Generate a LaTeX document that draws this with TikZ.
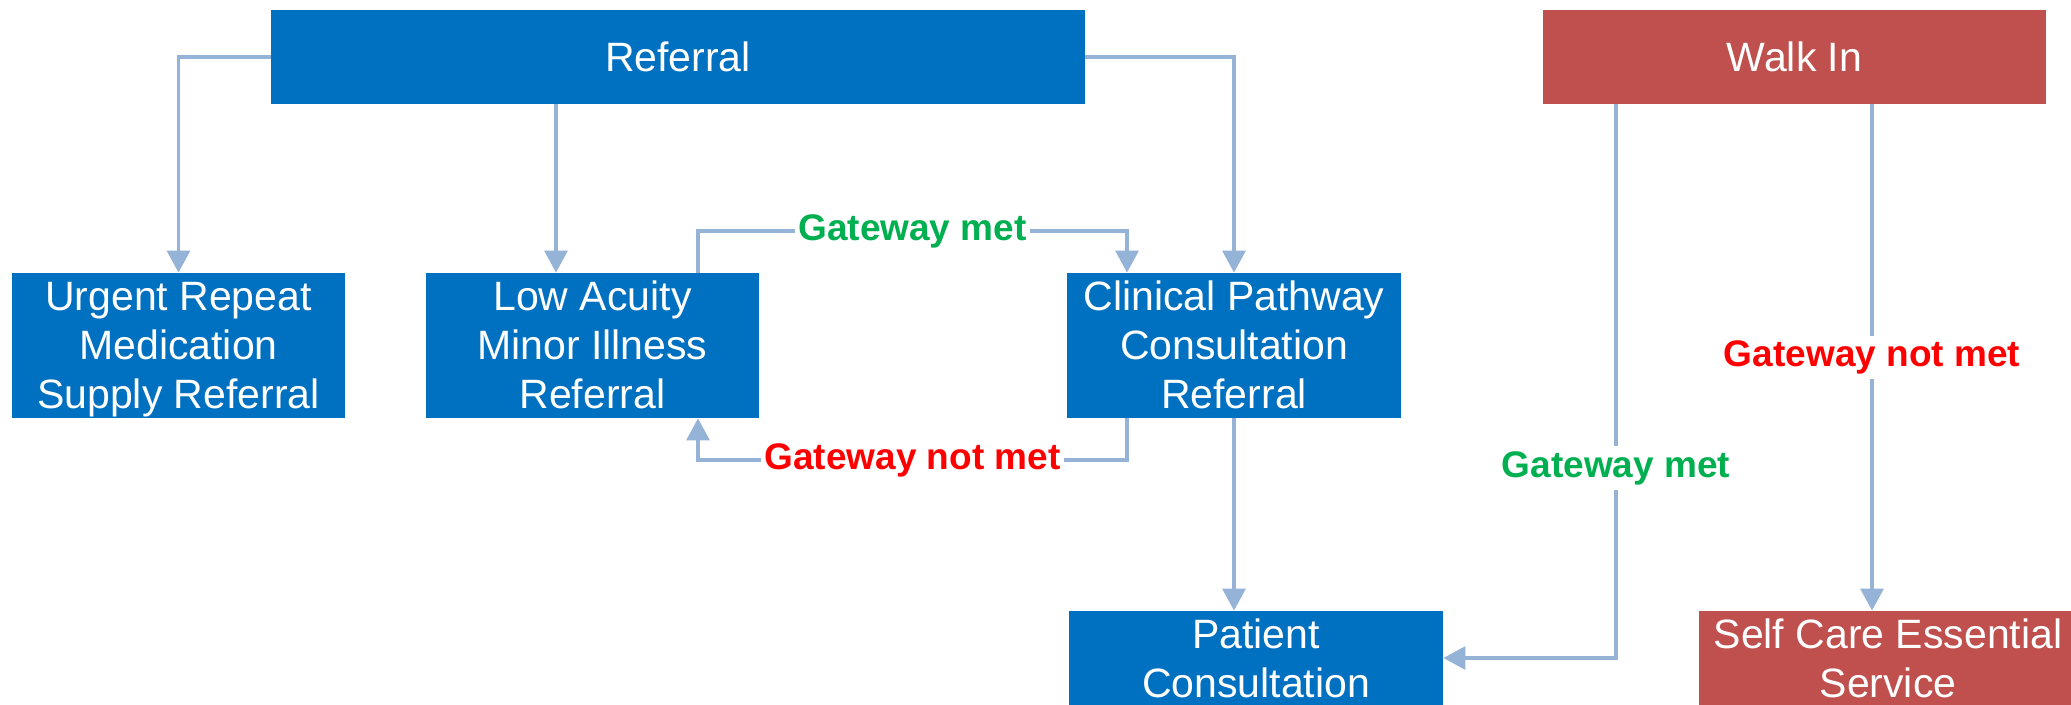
\documentclass[tikz,border=0pt]{standalone}
\usepackage{fontspec}
\setmainfont{Liberation Sans}
\usetikzlibrary{arrows.meta}
\definecolor{boxblue}{HTML}{0070C0}
\definecolor{boxred}{HTML}{C0504D}
\definecolor{connc}{HTML}{95B3D7}
\definecolor{gtext}{HTML}{00B050}
\definecolor{rtext}{HTML}{FF0000}
\newcommand\arstrut{\rule[-0.212em]{0pt}{1.117em}}
\begin{document}
\begin{tikzpicture}[x=0.5pt,y=-0.5pt,
  box/.style={rectangle, fill=boxblue, text=white, inner sep=0pt, align=center,
    font=\fontsize{20.5pt}{24.5pt}\selectfont},
  redbox/.style={box, fill=boxred},
  conn/.style={draw=connc, line width=1.6pt, -{Triangle[width=11.5pt,length=11pt]}},
  glabel/.style={fill=white, text=gtext, font=\fontsize{18.5pt}{22pt}\selectfont\bfseries,
    inner xsep=1.5pt, inner ysep=2.5pt},
  rlabel/.style={glabel, text=rtext}]
\useasboundingbox (0,0) rectangle (2071,705);
\clip (0,0) rectangle (2071,705);

\node[box, minimum width=407pt, minimum height=47pt] (ref) at (678,57) {\arstrut Referral};
\node[redbox, minimum width=251.5pt, minimum height=47pt] (walk) at (1794.5,57) {\arstrut Walk In};
\node[box, minimum width=166.5pt, minimum height=72.5pt] (urg) at (178.5,345.5) {\arstrut Urgent Repeat\\\arstrut Medication\\\arstrut Supply Referral};
\node[box, minimum width=166.5pt, minimum height=72.5pt] (low) at (592.5,345.5) {\arstrut Low Acuity\\\arstrut Minor Illness\\\arstrut Referral};
\node[box, minimum width=167pt, minimum height=72.5pt] (clin) at (1234,345.5) {\arstrut Clinical Pathway\\\arstrut Consultation\\\arstrut Referral};
\node[box, minimum width=187pt, minimum height=72.5pt] (pat) at (1256,683.5) {\arstrut Patient\\\arstrut Consultation\\\arstrut};
\node[redbox, minimum width=189pt, minimum height=72.5pt] (self) at (1888,683.5) {\arstrut Self Care Essential\\\arstrut Service\\\arstrut};

\coordinate (xlow) at (556,0);
\coordinate (gm) at (698,231);
\coordinate (gm2) at (1127,231);
\coordinate (gn) at (1127,460);
\coordinate (gn2) at (698,460);
\coordinate (wb) at (1616,658);
\coordinate (xs) at (1872,0);

\draw[conn] (ref.west) -| (urg.north);
\draw[conn] (ref.south -| xlow) -- (low.north -| xlow);
\draw[conn] (ref.east) -| (clin.north);
\draw[conn] (low.north -| gm) -- (gm) -- node[glabel]{Gateway met} (gm2) -- (clin.north -| gm2);
\draw[conn] (clin.south -| gn) -- (gn) -- node[rlabel]{Gateway not met} (gn2) -- (low.south -| gn2);
\draw[conn] (clin.south) -- (pat.north -| clin.south);
\draw[conn] (walk.south -| wb) -- node[glabel, pos=0.657]{Gateway met} (wb) -- (wb -| pat.east);
\draw[conn] (walk.south -| xs) -- node[rlabel]{Gateway not met} (self.north -| xs);
\end{tikzpicture}
\end{document}
